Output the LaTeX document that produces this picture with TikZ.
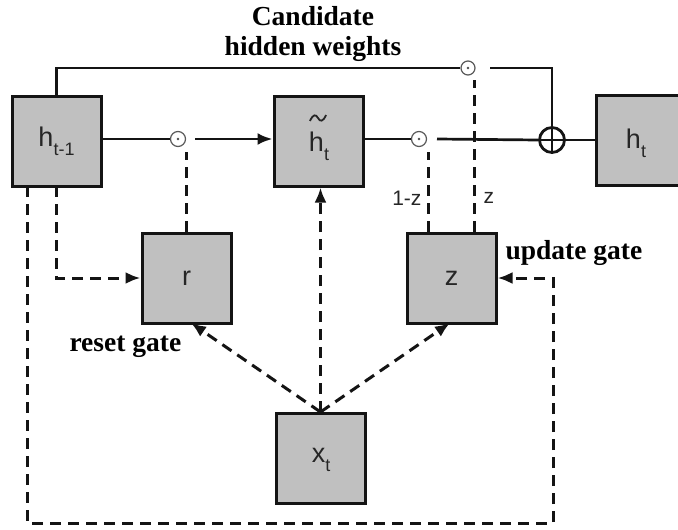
\documentclass[tikz,border=0pt]{standalone}
\usepackage{fontspec}
\setmainfont{Liberation Serif}
\newfontfamily\labelfont{Liberation Sans}
\usetikzlibrary{arrows.meta}

\definecolor{boxgray}{HTML}{C0C0C0}
\definecolor{ink}{HTML}{141414}
\definecolor{lbl}{HTML}{262626}

% lowered index inside a box label
\newcommand\lowidx[1]{\raisebox{-0.32em}{\fontsize{18}{18}\selectfont #1}}

\begin{document}
\begin{tikzpicture}[x=1pt,y=-1pt,
  gatebox/.style={draw=ink, fill=boxgray, line width=3pt, minimum width=89pt,
    minimum height=90pt, inner sep=0pt, font=\labelfont\fontsize{27}{27}\selectfont, text=lbl},
  boxtext/.style={font=\labelfont\fontsize{27}{27}\selectfont, text=lbl},
  wire/.style={draw=ink, line width=2.7pt},
  dsh/.style={draw=ink, line width=3pt, dash pattern=on 11pt off 7pt},
  tip/.style={-{Latex[length=15pt,width=12pt]}},
  mult/.style={circle, draw=black!65, line width=1.2pt, minimum size=15pt, inner sep=0pt},
  plus/.style={circle, draw=ink, line width=2.8pt, minimum size=25pt, inner sep=0pt},
  caption/.style={font=\bfseries\fontsize{27.5}{30}\selectfont, text=black, align=center},
  small/.style={font=\labelfont\fontsize{21}{21}\selectfont, text=lbl}
]
\clip (0,0) rectangle (678,530);
\fill[white] (0,0) rectangle (678,530);

% boxes
\node[gatebox] (hprev) at (56.5,141) {h\lowidx{t-1}};
\node[gatebox] (htil)  at (318.5,141) {};
\node[gatebox] (ht)    at (640.5,140.5) {};
\node[gatebox] (r)     at (186.5,278) {r};
\node[gatebox] (z)     at (451.5,278) {z};
\node[gatebox] (xt)    at (320.5,458.5) {};

% box labels placed by hand
\node[boxtext] (htiltxt) at (319,146) {h\lowidx{t}};
\draw[lbl, line width=1.8pt] (310,121) .. controls (313,114) and (316,114) .. (318,118)
                             .. controls (320,122) and (323,122) .. (326,115);
\node[boxtext] (httxt) at (636,143) {h\lowidx{t}};
\node[boxtext] (xttxt) at (321,460) {x\lowidx{t}};

% pointwise products and the sum
\node[mult] (c1) at (178,139) {};
\node[mult] (c2) at (419,139) {};
\node[mult, minimum size=14pt] (c3) at (468,68) {};
\foreach \c in {c1,c2,c3} \fill[black!70] (\c) circle (1.4pt);
\node[plus] (sum) at (552,140) {};
\draw[ink, line width=2.8pt] (sum.north) -- (sum.south) (sum.west) -- (sum.east);

% free ends of the wires
\coordinate (g1) at (195,139);
\coordinate (g2) at (437,139);
\coordinate (g3) at (490,68);
\coordinate (d1) at (186,152);
\coordinate (d2) at (428,152);
\coordinate (d3) at (474,80);

% solid wires
\draw[wire] (hprev.north) |- (c3.west);
\draw[wire] (g3) -| (sum.north);
\draw[wire] (hprev.east |- c1) -- (c1.west);
\draw[wire, tip] (g1) -- (htil.west |- g1);
\draw[wire] (htil.east |- c2) -- (c2.west);
\draw[wire] (g2) -- (sum.west);
\draw[wire] (sum.east) -- (ht.west |- sum);

% gate signals
\draw[dsh] (r.north -| d1) -- (d1);
\draw[dsh] (z.north -| d2) -- (d2);
\draw[dsh] (z.north -| d3) -- (d3);
\node[small, anchor=east] (lbl1z) at (425,198) {1-z};
\node[small, anchor=west] (lblz) at (480,198) {z};

% previous state into the gates
\coordinate (a1) at (56,186);
\coordinate (a2) at (27,186);
\coordinate (a3) at (553,523);
\draw[dsh, tip] (a1) |- (r.west);
\draw[dsh, tip] (a2) |- (a3) |- (z.east);

% input into the gates and the candidate
\coordinate (rt) at (191,323);
\coordinate (zt) at (450,323);
\draw[dsh, tip] (xt.north) -- (htil.south -| xt.north);
\draw[dsh, tip] (xt.north) -- (rt);
\draw[dsh, tip] (xt.north) -- (zt);

% captions
\node[caption] (cand) at (313,34) {Candidate\\hidden weights};
\node[caption, anchor=west] (upd) at (502,253) {update gate};
\node[caption, anchor=west] (rst) at (66,347) {reset gate};
\end{tikzpicture}
\end{document}
